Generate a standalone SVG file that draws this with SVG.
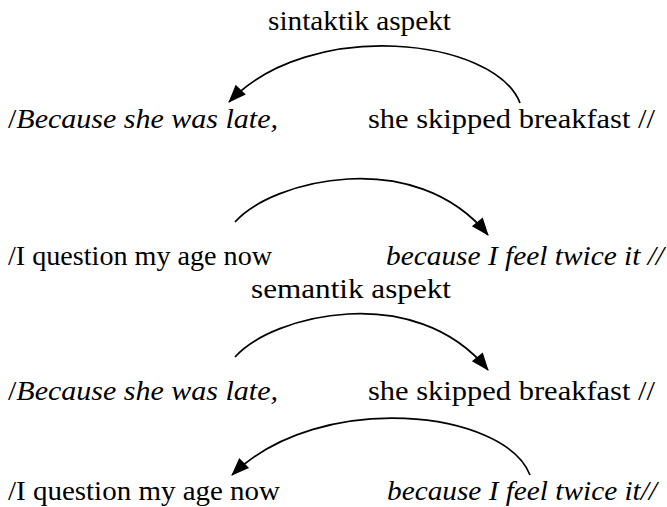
<svg xmlns="http://www.w3.org/2000/svg" width="667" height="507" viewBox="0 0 667 507">
<style>
text{font-family:"Liberation Serif","Times New Roman",serif;font-size:28px;fill:#000}
.i{font-style:italic}
.arc{fill:none;stroke:#000;stroke-width:1.7;marker-end:url(#ah)}
</style>
<defs>
<marker id="ah" markerUnits="userSpaceOnUse" markerWidth="20" markerHeight="16" refX="17" refY="7" orient="auto" overflow="visible">
<path d="M0,0 L18,7 L0,14 z" fill="#000"/>
</marker>
</defs>
<rect width="667" height="507" fill="#fff"/>
<g id="label-sintaktik"><text x="268" y="30" textLength="183" lengthAdjust="spacingAndGlyphs">sintaktik aspekt</text></g>
<g id="s1-left"><text x="8" y="128" textLength="270" lengthAdjust="spacingAndGlyphs">/<tspan class="i">Because she was late,</tspan></text></g>
<g id="s1-right"><text x="368" y="128" textLength="287" lengthAdjust="spacingAndGlyphs">she skipped breakfast //</text></g>
<g id="s2-left"><text x="8" y="265" textLength="264" lengthAdjust="spacingAndGlyphs">/I question my age now</text></g>
<g id="s2-right"><text x="386" y="265" class="i" textLength="278" lengthAdjust="spacingAndGlyphs">because I feel twice it //</text></g>
<g id="label-semantik"><text x="251" y="298" textLength="200" lengthAdjust="spacingAndGlyphs">semantik aspekt</text></g>
<g id="s3-left"><text x="8" y="400" textLength="270" lengthAdjust="spacingAndGlyphs">/<tspan class="i">Because she was late,</tspan></text></g>
<g id="s3-right"><text x="368" y="400" textLength="287" lengthAdjust="spacingAndGlyphs">she skipped breakfast //</text></g>
<g id="s4-left"><text x="8" y="500" textLength="272" lengthAdjust="spacingAndGlyphs">/I question my age now</text></g>
<g id="s4-right"><text x="387" y="500" class="i" textLength="270" lengthAdjust="spacingAndGlyphs">because I feel twice it//</text></g>
<g id="connectors">
<path class="arc" d="M520,103 C495,38 310,17 229,102"/>
<path class="arc" d="M235,222 C272,180 415,145 488,235"/>
<path class="arc" d="M235,357 C272,315 415,280 488,370"/>
<path class="arc" d="M530,475 C505,410 320,389 232,475"/>
</g>
</svg>
